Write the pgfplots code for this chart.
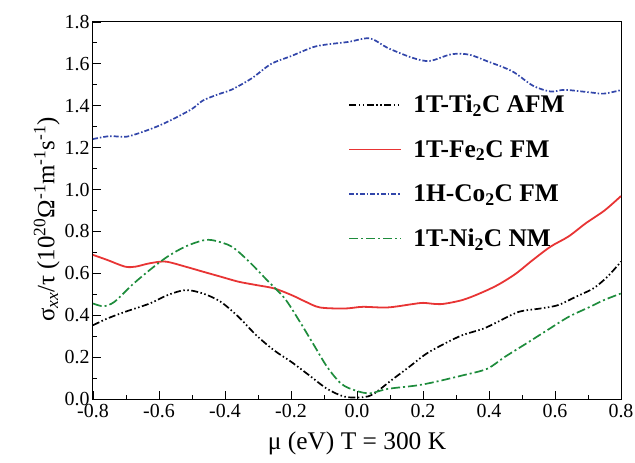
\documentclass[border=0pt]{standalone}
\usepackage{pgfplots}
\pgfplotsset{compat=1.18}
\usepackage{fontspec}
\setmainfont{Liberation Serif}
\definecolor{cred}{RGB}{232,52,52}
\definecolor{cblue}{RGB}{50,70,170}
\definecolor{cgreen}{RGB}{30,140,60}
\begin{document}
\begin{tikzpicture}
\path[use as bounding box] (-93bp,-64bp) rectangle (542bp,399bp);
\begin{axis}[
  scale only axis, width=528bp, height=377bp,
  xmin=-0.8, xmax=0.8, ymin=0, ymax=1.8,
  xtick={-0.8,-0.6,-0.4,-0.2,0,0.2,0.4,0.6,0.8},
  xticklabels={-0.8,-0.6,-0.4,-0.2,0.0,0.2,0.4,0.6,0.8},
  ytick={0,0.2,0.4,0.6,0.8,1.0,1.2,1.4,1.6,1.8},
  yticklabels={0.0,0.2,0.4,0.6,0.8,1.0,1.2,1.4,1.6,1.8},
  minor x tick num=1, minor y tick num=1,
  tick align=inside, xtick pos=bottom, ytick pos=left,
  major tick length=8bp, minor tick length=4bp,
  tick style={black, line width=0.9bp},
  axis line style={line width=1bp},
  ticklabel style={font=\fontsize{20}{22}\selectfont},
  xticklabel style={yshift=-2bp},
  xlabel={μ (eV) T = 300 K},
  xlabel style={font=\fontsize{25.5}{27}\selectfont, yshift=-7bp},
  ylabel={σ\textsubscript{\textit{xx}}/τ (10\textsuperscript{20}Ω\textsuperscript{-1}m\textsuperscript{-1}s\textsuperscript{-1})},
  ylabel style={font=\fontsize{25}{27}\selectfont, at={(ticklabel cs:0.476)}, yshift=-2bp},
  legend style={draw=none, fill=none, at={(0.478,0.817)}, anchor=north west,
    font=\bfseries\fontsize{25.5}{27}\selectfont, row sep=22bp,
    /tikz/every odd column/.append style={column sep=9bp}},
  legend cell align=left,
  legend image code/.code={\draw[#1] (0bp,0bp) -- (52bp,0bp);},
]
\addplot[black, line width=1.7bp, smooth, dash pattern=on 7bp off 2.5bp on 1.5bp off 2.5bp on 1.5bp off 2.5bp] coordinates {
(-0.80,0.352) (-0.757,0.384) (-0.703,0.416) (-0.628,0.456) (-0.574,0.496) (-0.52,0.52) (-0.467,0.504) (-0.413,0.464) (-0.359,0.392) (-0.305,0.304) (-0.251,0.232) (-0.198,0.176) (-0.144,0.112) (-0.09,0.048) (-0.037,0.011) (0.017,0.008) (0.05,0.024) (0.103,0.088) (0.157,0.152) (0.21,0.216) (0.265,0.264) (0.318,0.304) (0.383,0.336) (0.426,0.368) (0.49,0.416) (0.555,0.432) (0.609,0.448) (0.663,0.488) (0.716,0.528) (0.759,0.584) (0.80,0.656)};
\addlegendentry{1T-Ti\textsubscript{2}C AFM}
\addplot[cred, line width=1.8bp, smooth] coordinates {
(-0.80,0.688) (-0.757,0.664) (-0.703,0.632) (-0.671,0.632) (-0.628,0.648) (-0.58,0.656) (-0.52,0.632) (-0.467,0.608) (-0.413,0.584) (-0.359,0.56) (-0.305,0.544) (-0.251,0.528) (-0.198,0.496) (-0.155,0.464) (-0.112,0.437) (-0.037,0.432) (0.017,0.44) (0.092,0.437) (0.168,0.453) (0.2,0.459) (0.254,0.453) (0.318,0.472) (0.372,0.504) (0.426,0.544) (0.48,0.597) (0.533,0.664) (0.587,0.728) (0.641,0.776) (0.694,0.84) (0.75,0.90) (0.80,0.969)};
\addlegendentry{1T-Fe\textsubscript{2}C FM}
\addplot[cblue, line width=1.7bp, smooth, dash pattern=on 5bp off 2bp on 1.5bp off 2bp] coordinates {
(-0.80,1.241) (-0.75,1.255) (-0.70,1.252) (-0.65,1.275) (-0.60,1.305) (-0.553,1.34) (-0.50,1.385) (-0.467,1.425) (-0.42,1.455) (-0.38,1.477) (-0.32,1.53) (-0.26,1.600) (-0.20,1.637) (-0.133,1.680) (-0.09,1.693) (-0.026,1.705) (0.039,1.722) (0.092,1.677) (0.168,1.629) (0.22,1.614) (0.286,1.646) (0.34,1.644) (0.394,1.613) (0.47,1.565) (0.533,1.496) (0.587,1.468) (0.63,1.476) (0.706,1.464) (0.748,1.458) (0.80,1.475)};
\addlegendentry{1H-Co\textsubscript{2}C FM}
\addplot[cgreen, line width=1.7bp, smooth, dash pattern=on 9bp off 3bp on 2bp off 3bp] coordinates {
(-0.80,0.456) (-0.768,0.443) (-0.735,0.464) (-0.682,0.544) (-0.628,0.616) (-0.574,0.68) (-0.52,0.728) (-0.467,0.757) (-0.434,0.757) (-0.38,0.728) (-0.327,0.656) (-0.273,0.568) (-0.219,0.48) (-0.176,0.376) (-0.133,0.264) (-0.09,0.152) (-0.047,0.072) (-0.004,0.04) (0.039,0.027) (0.092,0.048) (0.178,0.064) (0.232,0.08) (0.318,0.112) (0.394,0.144) (0.447,0.2) (0.512,0.264) (0.576,0.328) (0.641,0.392) (0.706,0.44) (0.748,0.472) (0.80,0.504)};
\addlegendentry{1T-Ni\textsubscript{2}C NM}
\end{axis}
\end{tikzpicture}
\end{document}
